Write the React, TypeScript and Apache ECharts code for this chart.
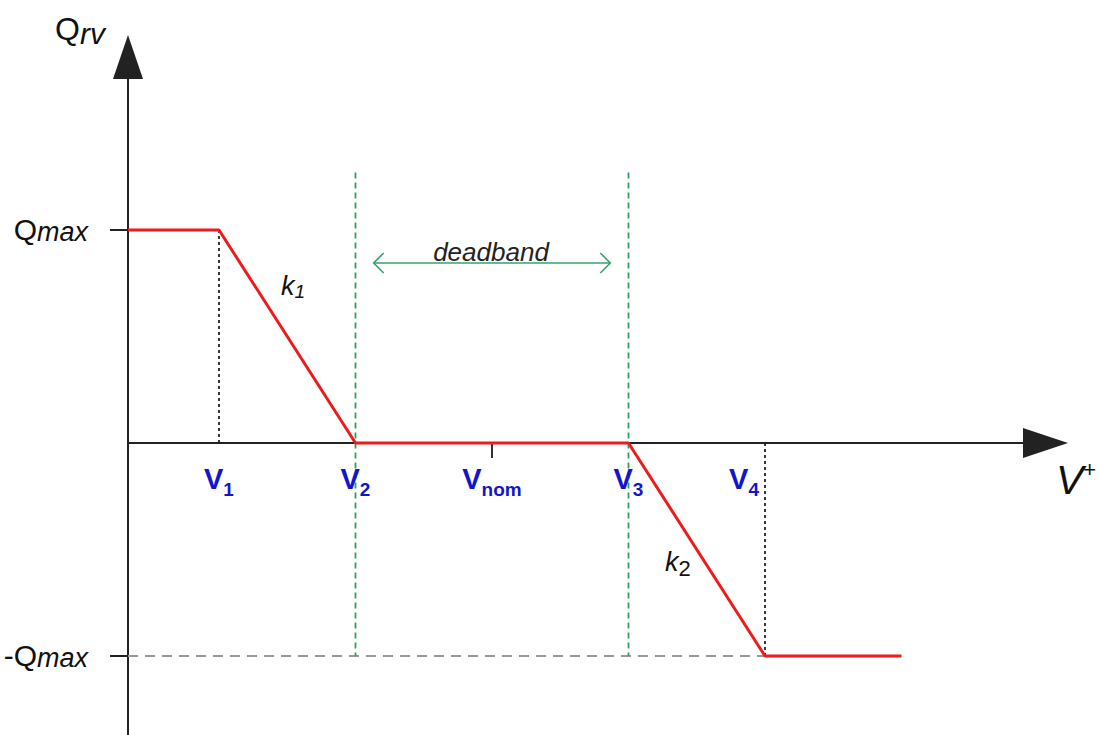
import React, { useEffect, useRef } from 'react';
import * as echarts from 'echarts';

// V1, V2, Vnom, V3, V4 positions on the voltage axis
const vPoints = [2, 5, 8, 11, 14];
const vSubs = ['1', '2', 'nom', '3', '4'];
const vNomTick = [8];
// Q levels (Qmax, -Qmax)
const qLevels = [1, -1];
// Droop curve
const curveX = [0, 2, 5, 11, 14, 17];
const curveY = [1, 1, 0, 0, -1, -1];
// deadband arrow: from, to, level
const deadbandArrow = [5.4, 10.6, 0.845];
const greenTop = 1.27;

const FONT = '"Liberation Sans", Arial, sans-serif';
const BLUE = '#1414cc';

export default function App() {
  const ref = useRef<HTMLDivElement>(null);
  useEffect(() => {
    if (!ref.current) return;
    const chart = echarts.init(ref.current, null, { renderer: 'svg' });
    const curve = curveX.map((x, i) => [x, curveY[i]]);
    const guide = (pts: number[][], color: string, type: any, width: number) => ({
      type: 'line',
      data: pts,
      symbol: 'none',
      showSymbol: false,
      silent: true,
      z: 1,
      lineStyle: { color, type, width },
    });
    const option: any = {
      animation: false,
      grid: { left: 128, right: 53.5, top: 57, bottom: 0.2, containLabel: false, outerBoundsMode: 'none' },
      xAxis: {
        type: 'value',
        min: 0,
        max: 20.165,
        splitLine: { show: false },
        axisLine: {
          onZero: true,
          symbol: ['none', 'triangle'],
          symbolSize: [30, 45],
          lineStyle: { color: '#222', width: 2 },
        },
        axisTick: { show: true, customValues: vNomTick, length: 15, lineStyle: { color: '#333', width: 2 } },
        axisLabel: { show: false },
      },
      yAxis: {
        type: 'value',
        min: -1.37,
        max: 1.812,
        splitLine: { show: false },
        axisLine: {
          onZero: true,
          symbol: ['none', 'triangle'],
          symbolSize: [30, 44],
          lineStyle: { color: '#222', width: 2 },
        },
        axisTick: { show: true, customValues: qLevels, length: 18, lineStyle: { color: '#222', width: 2 } },
        axisLabel: {
          customValues: qLevels,
          margin: 40,
          formatter: (v: number) => (v > 0 ? '{q|Q}{m|max}' : '{q|-Q}{m|max}'),
          rich: {
            q: { fontSize: 30, color: '#111', fontFamily: FONT },
            m: { fontSize: 27, color: '#111', fontStyle: 'italic', fontFamily: FONT, padding: [5, 0, 0, 0] },
          },
        },
      },
      series: [
        guide([[0, -1], [vPoints[4], -1]], '#999', [10, 7], 2),
        guide([[vPoints[0], 0], [vPoints[0], 1]], '#222', [3, 3], 1.8),
        guide([[vPoints[4], 0], [vPoints[4], -1]], '#222', [3, 3], 1.8),
        guide([[vPoints[1], greenTop], [vPoints[1], -1]], '#2f9e5e', [6, 4], 1.8),
        guide([[vPoints[3], greenTop], [vPoints[3], -1]], '#2f9e5e', [6, 4], 1.8),
        {
          type: 'custom',
          silent: true,
          z: 3,
          data: [deadbandArrow],
          renderItem: (params: any, api: any) => {
            const a = api.coord([api.value(0), api.value(2)]);
            const b = api.coord([api.value(1), api.value(2)]);
            const st = { stroke: '#35a36a', lineWidth: 1.6, fill: 'none' };
            return {
              type: 'group',
              children: [
                { type: 'line', shape: { x1: a[0], y1: a[1], x2: b[0], y2: b[1] }, style: st },
                { type: 'polyline', shape: { points: [[a[0] + 10, a[1] - 10], [a[0], a[1]], [a[0] + 10, a[1] + 10]] }, style: st },
                { type: 'polyline', shape: { points: [[b[0] - 10, b[1] - 10], [b[0], b[1]], [b[0] - 10, b[1] + 10]] }, style: st },
              ],
            };
          },
        },
        {
          type: 'scatter',
          silent: true,
          z: 4,
          symbolSize: 0,
          itemStyle: { opacity: 1 },
          data: vPoints.map((x) => [x, 0]),
          label: {
            show: true,
            position: 'bottom',
            distance: 16,
            opacity: 1,
            formatter: (p: any) => {
              const i = p.dataIndex;
              const sub = vSubs[i];
              if (sub === 'nom') return `{v|V}{n|${sub}}`;
              if (i === vPoints.length - 1) return `{v|V}{s|${sub}}{p|}`;
              return `{v|V}{s|${sub}}`;
            },
            rich: {
              v: { fontSize: 29, fontWeight: 'bold', color: BLUE, fontFamily: FONT, lineHeight: 40 },
              s: { fontSize: 19, fontWeight: 'bold', color: BLUE, fontFamily: FONT, lineHeight: 19, verticalAlign: 'bottom' },
              n: { fontSize: 19, fontWeight: 'bold', color: BLUE, fontFamily: FONT, lineHeight: 26, verticalAlign: 'bottom' },
              p: { width: 42 },
            },
          },
        },
        {
          type: 'line',
          data: curve,
          symbol: 'none',
          showSymbol: false,
          silent: true,
          z: 5,
          lineStyle: { color: '#ec1c1c', width: 3 },
        },
      ],
      graphic: [
        {
          type: 'text', x: 55, y: 10, z: 10,
          style: {
            text: '{q|Q}{r|rv}', fill: '#111',
            rich: {
              q: { fontSize: 32, fontFamily: FONT, fill: '#111' },
              r: { fontSize: 30, fontFamily: FONT, fontStyle: 'italic', fill: '#111', padding: [8, 0, 0, 0] },
            },
          },
        },
        {
          type: 'text', x: 1056, y: 458, z: 10,
          style: {
            text: '{v|V}{p|+}', fill: '#111',
            rich: {
              v: { fontSize: 41, fontFamily: FONT, fontStyle: 'italic', fill: '#111' },
              p: { fontSize: 22, fontFamily: FONT, fill: '#111', padding: [0, 0, 22, 0] },
            },
          },
        },
        {
          type: 'text', x: 491, y: 252, z: 10,
          style: {
            text: 'deadband', fill: '#222', fontSize: 26, fontStyle: 'italic', fontFamily: FONT,
            align: 'center', verticalAlign: 'middle',
          },
        },
        {
          type: 'text', x: 281, y: 270, z: 10,
          style: {
            text: '{k|k}{s|1}', fill: '#111',
            rich: {
              k: { fontSize: 27, fontFamily: FONT, fontStyle: 'italic', fill: '#111' },
              s: { fontSize: 19, fontFamily: FONT, fontStyle: 'italic', fill: '#111', padding: [12, 0, 0, 0] },
            },
          },
        },
        {
          type: 'text', x: 665, y: 545, z: 10,
          style: {
            text: '{k|k}{s|2}', fill: '#111',
            rich: {
              k: { fontSize: 27, fontFamily: FONT, fontStyle: 'italic', fill: '#111' },
              s: { fontSize: 22, fontFamily: FONT, fill: '#111', padding: [12, 0, 0, 0] },
            },
          },
        },
      ],
    };
    chart.setOption(option);
    return () => chart.dispose();
  }, []);
  return (
    <div
      ref={ref}
      style={{ position: 'absolute', left: 0, top: 0, width: 1099, height: 735, background: '#fff' }}
    />
  );
}
